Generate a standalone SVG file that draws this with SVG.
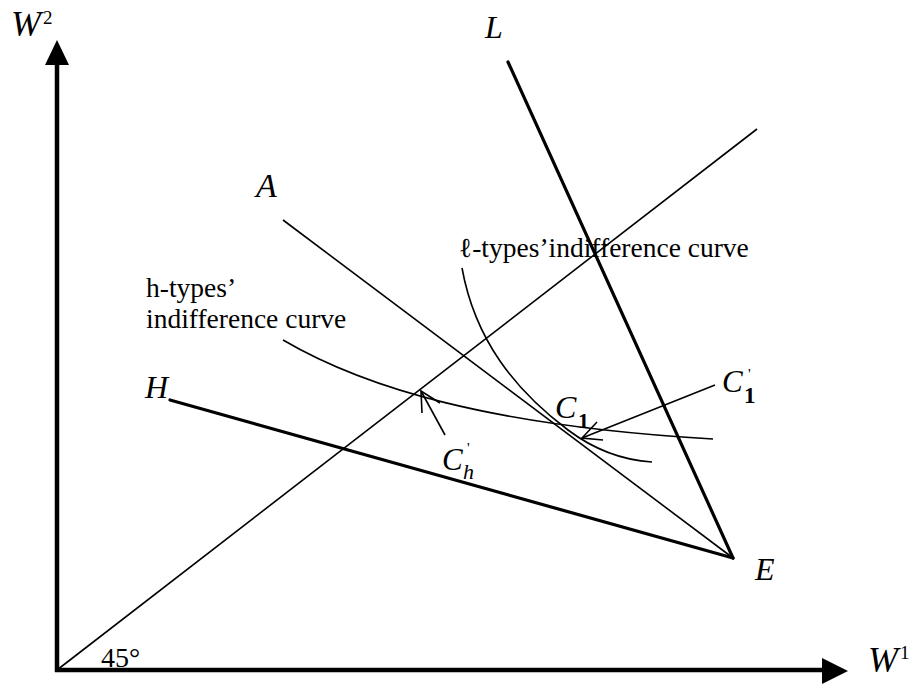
<svg xmlns="http://www.w3.org/2000/svg" width="914" height="687" viewBox="0 0 914 687">
<style>
  .lbl{font-family:"Liberation Serif","Times New Roman",serif;font-style:italic;fill:#000}
  .txt{font-family:"Liberation Serif","Times New Roman",serif;fill:#000}
  .thin{stroke:#000;stroke-width:1.6;fill:none}
  .thick{stroke:#000;stroke-width:3.2;fill:none;stroke-linecap:round}
  .axis{stroke:#000;stroke-width:4.5;fill:none}
</style>
<rect width="914" height="687" fill="#fff"/>
<g id="axes">
  <line class="axis" x1="57" y1="672" x2="57" y2="62"/>
  <polygon points="57,40 45,65 69,65" fill="#000"/>
  <line class="axis" x1="55" y1="670" x2="824" y2="670"/>
  <polygon points="848,671 822,658 822,684" fill="#000"/>
  <text class="lbl" x="11" y="36" font-size="36">W</text>
  <text class="txt" x="43" y="24" font-size="19">2</text>
  <text class="lbl" x="868" y="672" font-size="36">W</text>
  <text class="txt" x="900" y="659" font-size="19">1</text>
  <text class="txt" x="101" y="667" font-size="28">45°</text>
</g>
<g id="connectors">
  <line id="diag45" class="thin" x1="57" y1="670" x2="757" y2="129"/>
  <line id="lineL" class="thick" x1="508" y1="62" x2="733" y2="558"/>
  <line id="lineA" class="thin" x1="283" y1="220" x2="733" y2="558"/>
  <line id="lineH" class="thick" x1="170" y1="400" x2="733" y2="558"/>
  <path id="hcurve" class="thin" d="M283,340 C365,388 490,426 713,439"/>
  <path id="lcurve" class="thin" d="M462,268 C475,340 515,390 568,430 C592,448 620,460 652,462"/>
  <polyline class="thin" points="715,385 582,438"/>
  <polyline class="thin" points="597,422 582,438 603,440"/>
  <polyline class="thin" points="445,435 421,391"/>
  <polyline class="thin" points="422,413 421,391 440,403"/>
</g>
<g id="node-L"><text class="lbl" x="485" y="38" font-size="32">L</text></g>
<g id="node-A"><text class="lbl" x="256" y="197" font-size="34">A</text></g>
<g id="node-H"><text class="lbl" x="145" y="398" font-size="32">H</text></g>
<g id="node-E"><text class="lbl" x="755" y="580" font-size="32">E</text></g>
<g id="node-htext">
  <text class="txt" x="146" y="297" font-size="27.5">h-types’</text>
  <text class="txt" x="146" y="328" font-size="27.5">indifference curve</text>
</g>
<g id="node-ltext"><text class="txt" x="459" y="257" font-size="27.5">ℓ-types’indifference curve</text></g>
<g id="node-C1">
  <text class="lbl" x="555" y="418" font-size="32">C</text>
  <text class="txt" x="578" y="428" font-size="22" font-weight="bold">1</text>
</g>
<g id="node-C1p">
  <text class="lbl" x="722" y="392" font-size="31">C</text>
  <text class="txt" x="748" y="379" font-size="15">'</text>
  <text class="txt" x="744" y="403" font-size="23" font-weight="bold">1</text>
</g>
<g id="node-Chp">
  <text class="lbl" x="442" y="470" font-size="31">C</text>
  <text class="txt" x="467" y="453" font-size="15">'</text>
  <text class="lbl" x="463" y="479" font-size="22">h</text>
</g>
</svg>
